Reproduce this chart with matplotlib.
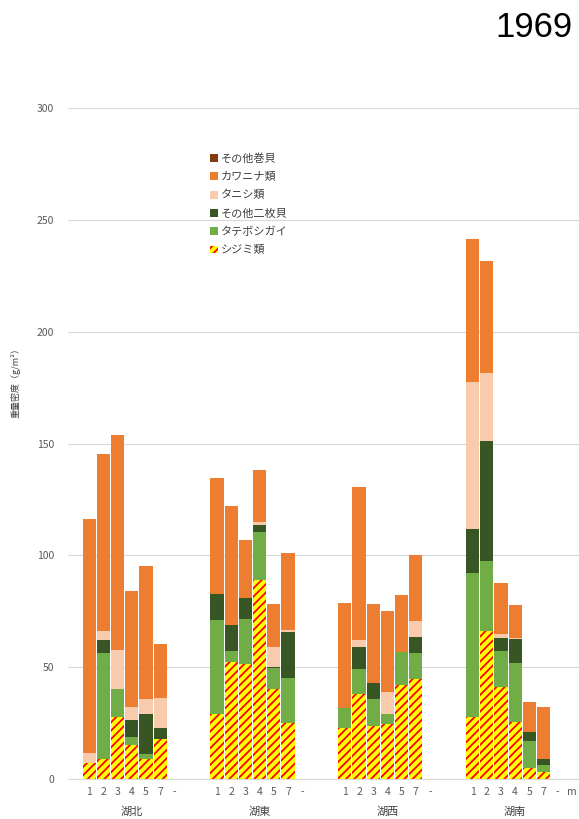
import numpy as np
import matplotlib
matplotlib.use("Agg")
import matplotlib.pyplot as plt

plt.rcParams['font.family'] = ['Noto Sans CJK JP', 'DejaVu Sans']
plt.rcParams['hatch.linewidth'] = 1.3

lakes = ['湖北', '湖東', '湖西', '湖南']
depths = ['1', '2', '3', '4', '5', '7', '-']

# values per lake, depth 1,2,3,4,5,7 (g/m2)
shijimi = [7.3, 8.8, 27.9, 15.2, 9.1, 17.7,
           29.2, 52.5, 51.4, 89.0, 40.4, 25.0,
           22.8, 37.9, 23.8, 24.4, 42.0, 44.6,
           27.9, 66.1, 41.0, 25.4, 5.1, 3.0]
tateboshi = [0, 47.5, 12.3, 3.6, 2.1, 0,
             42.0, 4.7, 20.3, 21.4, 9.2, 20.3,
             9.1, 11.3, 12.0, 4.8, 14.9, 11.9,
             64.2, 31.3, 16.3, 26.6, 11.7, 3.4]
other_bivalve = [0, 5.8, 0, 7.6, 18.0, 5.0,
                 11.7, 11.8, 9.4, 3.3, 0.6, 20.6,
                 0, 10.0, 7.3, 0, 0, 7.1,
                 19.5, 53.7, 5.9, 10.4, 4.3, 2.5]
tanishi = [4.5, 4.1, 17.5, 5.6, 6.6, 13.7,
           0, 0, 0, 1.2, 8.7, 0.5,
           0, 2.9, 0, 9.7, 0, 6.9,
           65.7, 30.2, 1.8, 0.8, 0, 0]
kawanina = [104.4, 79.0, 96.2, 52.2, 59.4, 23.8,
            51.5, 52.9, 25.9, 23.1, 19.5, 34.8,
            46.6, 68.3, 35.1, 36.2, 25.5, 29.5,
            64.2, 50.1, 22.8, 14.7, 13.5, 23.5]
other_snail = [0] * 24

series = [
    ('シジミ類', shijimi, '#FFFF00'),
    ('タテボシガイ', tateboshi, '#70AD47'),
    ('その他二枚貝', other_bivalve, '#375623'),
    ('タニシ類', tanishi, '#F8CBAD'),
    ('カワニナ類', kawanina, '#ED7D31'),
    ('その他巻貝', other_snail, '#843C0C'),
]

# category slots: 9 per lake, last lake has an extra "m" slot
group_start = [0, 9, 18, 27]
x = np.array([g + i for g in group_start for i in range(6)])

fig = plt.figure(figsize=(5.79, 8.19), dpi=100)
ax = fig.add_axes([68 / 579, 40 / 819, 1 - 68 / 579, 671 / 819])

bottom = np.zeros(len(x))
handles = []
for name, vals, color in series:
    vals = np.array(vals, dtype=float)
    if name == 'シジミ類':
        b = ax.bar(x, vals, 0.93, bottom=bottom, color=color, edgecolor='#FF0000',
                   linewidth=0, hatch='////', label=name)
    else:
        b = ax.bar(x, vals, 0.93, bottom=bottom, color=color, linewidth=0, label=name)
    handles.append(b)
    bottom += vals

ax.set_xlim(-1.5, 34.5)
ax.set_ylim(0, 300)
ax.set_yticks(range(0, 301, 50))
ax.yaxis.grid(True, color='#D9D9D9', linewidth=0.8)
ax.set_axisbelow(True)
for s in ['top', 'right', 'left']:
    ax.spines[s].set_visible(False)
ax.spines['bottom'].set_color('#D9D9D9')
ax.tick_params(axis='both', length=0, colors='#595959', labelsize=7.5)
ax.tick_params(axis='y', pad=10)
ax.tick_params(axis='x', pad=6)

ticks = [g + i for g in group_start for i in range(7)] + [34]
labels = depths * 4 + ['m']
ax.set_xticks(ticks)
ax.set_xticklabels(labels)

for g, lake in zip(group_start, lakes):
    ax.text(g + 3, -0.049, lake, transform=ax.get_xaxis_transform(),
            ha='center', va='center', fontsize=8, color='#404040')

fig.text(0.026, 0.535, '重量密度（g/m²）', rotation=90, ha='center', va='center',
         fontsize=6.5, color='#404040')
fig.text(0.988, 1 - 37 / 819, '1969', ha='right', va='baseline', fontsize=25,
         family='Liberation Sans')

ax.legend(handles[::-1], [s[0] for s in series][::-1], loc='upper left',
          bbox_to_anchor=(0.345, 0.825), bbox_transform=fig.transFigure,
          frameon=False, fontsize=8, handlelength=0.7, handleheight=0.7,
          handletextpad=0.3, labelspacing=0.72, labelcolor='#404040')

fig.savefig('out.png', dpi=100)
